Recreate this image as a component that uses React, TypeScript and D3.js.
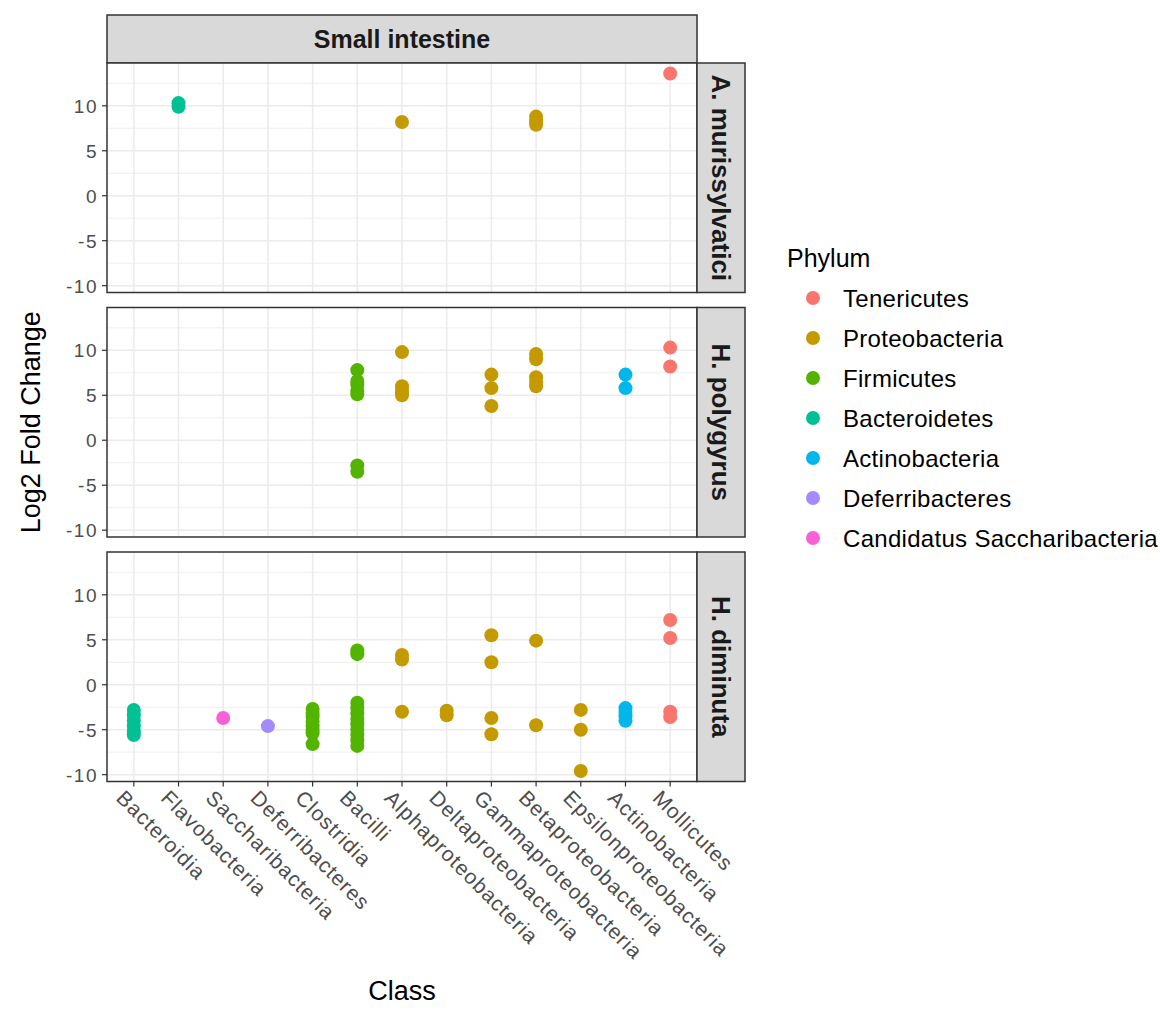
import * as d3 from 'd3';

const CLASSES = [
  'Bacteroidia', 'Flavobacteria', 'Saccharibacteria', 'Deferribacteres', 'Clostridia', 'Bacilli',
  'Alphaproteobacteria', 'Deltaproteobacteria', 'Gammaproteobacteria', 'Betaproteobacteria',
  'Epsilonproteobacteria', 'Actinobacteria', 'Mollicutes',
];
const CLASS_PHYLUM = [
  'Bacteroidetes', 'Bacteroidetes', 'Candidatus Saccharibacteria', 'Deferribacteres', 'Firmicutes', 'Firmicutes',
  'Proteobacteria', 'Proteobacteria', 'Proteobacteria', 'Proteobacteria',
  'Proteobacteria', 'Actinobacteria', 'Tenericutes',
];
const PHYLA = ['Tenericutes', 'Proteobacteria', 'Firmicutes', 'Bacteroidetes', 'Actinobacteria', 'Deferribacteres', 'Candidatus Saccharibacteria'];
const PHYLUM_COLORS = ['#F8766D', '#C49A00', '#53B400', '#00C094', '#00B6EB', '#A58AFF', '#FB61D7'];
const FACETS = ['A. murissylvatici', 'H. polygyrus', 'H. diminuta'];

// [class, log2 fold changes]
const aMuris: [string, number[]][] = [
  ['Flavobacteria', [10.3, 9.9]],
  ['Alphaproteobacteria', [8.2]],
  ['Betaproteobacteria', [8.8, 8.3, 7.9]],
  ['Mollicutes', [13.6]],
];
const hPolygyrus: [string, number[]][] = [
  ['Bacilli', [7.8, 6.6, 6.2, 5.5, 5.1, -2.8, -3.5]],
  ['Alphaproteobacteria', [9.8, 6.0, 5.6, 5.2, 5.0]],
  ['Gammaproteobacteria', [7.3, 5.8, 3.8]],
  ['Betaproteobacteria', [9.6, 9.0, 7.0, 6.5, 6.0]],
  ['Actinobacteria', [7.3, 5.8]],
  ['Mollicutes', [10.3, 8.2]],
];
const hDiminuta: [string, number[]][] = [
  ['Bacteroidia', [-2.8, -3.4, -4.0, -4.6, -5.2, -5.6]],
  ['Saccharibacteria', [-3.7]],
  ['Deferribacteres', [-4.6]],
  ['Clostridia', [-2.7, -3.2, -3.6, -4.1, -4.6, -5.0, -5.4, -6.6]],
  ['Bacilli', [3.8, 3.4, -2.0, -2.6, -3.2, -3.8, -4.4, -5.0, -5.6, -6.2, -6.8]],
  ['Alphaproteobacteria', [3.3, 2.8, -3.0]],
  ['Deltaproteobacteria', [-2.9, -3.4]],
  ['Gammaproteobacteria', [5.5, 2.5, -3.7, -5.5]],
  ['Betaproteobacteria', [4.9, -4.5]],
  ['Epsilonproteobacteria', [-2.8, -5.0, -9.6]],
  ['Actinobacteria', [-2.6, -3.0, -3.5, -4.0]],
  ['Mollicutes', [7.2, 5.2, -3.0, -3.6]],
];
const PANEL_DATA = [aMuris, hPolygyrus, hDiminuta];
const Y_TICKS = [-10, -5, 0, 5, 10];
const Y_MINOR = [-7.5, -2.5, 2.5, 7.5, 12.5];

const FONT = '"Liberation Sans", Arial, sans-serif';

export default function App() {
  const left = 107, right = 697;
  const stripTop = 15, panelTop0 = 63, panelH = 229.5, gap = 15;
  const stripW = 48;

  const x = d3.scalePoint<string>().domain(CLASSES).range([left, right]).padding(0.6);
  const phylumColor = d3.scaleOrdinal<string, string>().domain(PHYLA).range(PHYLUM_COLORS);

  const allVals = PANEL_DATA.flatMap((p) => p.flatMap(([, v]) => v));
  const [lo, hi] = d3.extent(allVals) as [number, number];
  const pad = (hi - lo) * 0.05;
  const yDomain: [number, number] = [lo - pad, hi + pad];

  const bottom = panelTop0 + 3 * panelH + 2 * gap;

  return (
    <div>
      <style>{`body{margin:0}`}</style>
      <svg width={1160} height={1018} style={{ display: 'block', fontFamily: FONT }}>
        <rect width={1160} height={1018} fill="#fff" />

        {/* top strip */}
        <rect x={left} y={stripTop} width={right - left} height={panelTop0 - stripTop} fill="#D9D9D9" stroke="#333" strokeWidth={1.5} />
        <text x={(left + right) / 2} y={(stripTop + panelTop0) / 2} dy="0.36em" textAnchor="middle" fontSize={25} fontWeight="bold" fill="#1A1A1A">
          Small intestine
        </text>

        {FACETS.map((facet, i) => {
          const top = panelTop0 + i * (panelH + gap);
          const y = d3.scaleLinear().domain(yDomain).range([top + panelH, top]);
          const pts = PANEL_DATA[i].flatMap(([cls, vals]) =>
            vals.map((v) => ({ cls, v, phylum: CLASS_PHYLUM[CLASSES.indexOf(cls)] })));
          return (
            <g key={facet}>
              <rect x={left} y={top} width={right - left} height={panelH} fill="#fff" />
              {Y_MINOR.filter((t) => y(t) > top).map((t) => (
                <line key={'m' + t} x1={left} x2={right} y1={y(t)} y2={y(t)} stroke="#EBEBEB" strokeWidth={0.8} />
              ))}
              {Y_TICKS.map((t) => (
                <line key={'g' + t} x1={left} x2={right} y1={y(t)} y2={y(t)} stroke="#EBEBEB" strokeWidth={1.5} />
              ))}
              {CLASSES.map((c) => (
                <line key={c} x1={x(c)} x2={x(c)} y1={top} y2={top + panelH} stroke="#EBEBEB" strokeWidth={1.5} />
              ))}
              {pts.map((p, j) => (
                <circle key={j} cx={x(p.cls)} cy={y(p.v)} r={7} fill={phylumColor(p.phylum)} />
              ))}
              <rect x={left} y={top} width={right - left} height={panelH} fill="none" stroke="#333" strokeWidth={1.5} />
              {/* y axis */}
              {Y_TICKS.map((t) => (
                <g key={'t' + t}>
                  <line x1={left - 5} x2={left} y1={y(t)} y2={y(t)} stroke="#333" strokeWidth={1.2} />
                  <text x={left - 9} y={y(t)} dy="0.36em" textAnchor="end" fontSize={19} letterSpacing={1.5} fill="#4D4D4D">{t}</text>
                </g>
              ))}
              {/* right strip */}
              <rect x={right} y={top} width={stripW} height={panelH} fill="#D9D9D9" stroke="#333" strokeWidth={1.5} />
              <text transform={`translate(${right + stripW / 2},${top + panelH / 2}) rotate(90)`} dy="0.36em" textAnchor="middle" fontSize={26} fontWeight="bold" fill="#1A1A1A">
                {facet}
              </text>
            </g>
          );
        })}

        {/* x axis */}
        {CLASSES.map((c) => (
          <g key={'x' + c}>
            <line x1={x(c)} x2={x(c)} y1={bottom} y2={bottom + 5} stroke="#333" strokeWidth={1.2} />
            <text transform={`translate(${(x(c) ?? 0) - 8},${bottom + 7}) rotate(45)`} dy="0.72em" textAnchor="start" fontSize={21} letterSpacing={1} fill="#4D4D4D">
              {c}
            </text>
          </g>
        ))}

        <text x={(left + right) / 2} y={990} dy="0.36em" textAnchor="middle" fontSize={27} fill="#000">Class</text>
        <text transform={`translate(30,${(panelTop0 + bottom) / 2}) rotate(-90)`} dy="0.36em" textAnchor="middle" fontSize={27} fill="#000">
          Log2 Fold Change
        </text>

        {/* legend */}
        <text x={787} y={258} dy="0.36em" fontSize={25} fill="#000">Phylum</text>
        {PHYLA.map((p, i) => (
          <g key={p}>
            <circle cx={813} cy={298 + i * 40} r={7} fill={phylumColor(p)} />
            <text x={843} y={298 + i * 40} dy="0.36em" fontSize={24} letterSpacing={0.3} fill="#000">{p}</text>
          </g>
        ))}
      </svg>
    </div>
  );
}
